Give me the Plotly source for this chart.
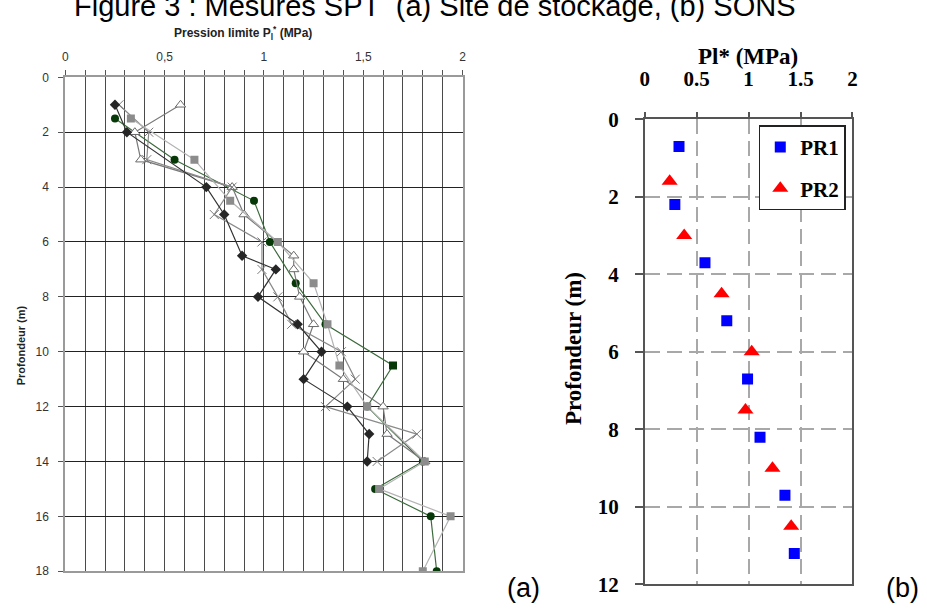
import plotly.graph_objects as go

W, H = 927, 614

# ---------------- Panel (a) data : Pression limite Pl* (MPa) vs depth (m)
diam_depth = [1, 2, 4, 5, 6.5, 7, 8, 9, 10, 11, 12, 13, 14]
diam_pl = [0.25, 0.31, 0.71, 0.80, 0.89, 1.06, 0.97, 1.17, 1.29, 1.20, 1.42, 1.53, 1.52]

circ_depth = [1.5, 3, 4.5, 6, 7.5, 9, 10.5, 12, 14, 15, 16, 18]
circ_pl = [0.25, 0.55, 0.95, 1.03, 1.16, 1.31, 1.65, 1.52, 1.80, 1.56, 1.84, 1.87]
circ_sym = ["circle"] * 6 + ["square"] + ["circle"] * 5

sq_depth = [1.5, 3, 4.5, 6, 7.5, 9, 10.5, 12, 14, 15, 16, 18]
sq_pl = [0.33, 0.65, 0.83, 1.07, 1.25, 1.32, 1.38, 1.52, 1.81, 1.58, 1.94, 1.80]

tri_depth = [1, 2, 3, 4, 5, 6.5, 7, 8, 9, 10, 11, 12, 13, 14]
tri_pl = [0.58, 0.35, 0.38, 0.84, 0.90, 1.15, 1.15, 1.18, 1.25, 1.20, 1.40, 1.60, 1.62, 1.81]

cross_depth = [1, 2, 3, 4, 5, 6, 7, 8, 9, 10, 11, 12, 13, 14]
cross_pl = [0.27, 0.42, 0.41, 0.84, 0.75, 0.99, 0.99, 1.07, 1.14, 1.39, 1.46, 1.31, 1.77, 1.57]

a_tickvals = [0, 0.5, 1, 1.5, 2]
a_ticktext = ["0", "0,5", "1", "1,5", "2"]
a_depth_ticks = [0, 2, 4, 6, 8, 10, 12, 14, 16, 18]

# ---------------- Panel (b) data
pr1_depth = [0.7, 2.2, 3.7, 5.2, 6.7, 8.2, 9.7, 11.2]
pr1_pl = [0.33, 0.29, 0.58, 0.79, 0.99, 1.11, 1.35, 1.44]
pr2_depth = [1.6, 3.0, 4.5, 6.0, 7.5, 9.0, 10.5]
pr2_pl = [0.24, 0.38, 0.74, 1.03, 0.97, 1.23, 1.41]

fig = go.Figure()

# panel (a) traces
fig.add_trace(go.Scatter(x=circ_pl, y=circ_depth, mode="lines+markers",
                         line=dict(color="#3d6b3d", width=1.2),
                         marker=dict(symbol=circ_sym, size=8, color="#073807",
                                     line=dict(color="#073807", width=0)),
                         showlegend=False, xaxis="x", yaxis="y"))
fig.add_trace(go.Scatter(x=tri_pl, y=tri_depth, mode="lines+markers",
                         line=dict(color="#7a7a7a", width=1.2),
                         marker=dict(symbol="triangle-up", size=9, color="white",
                                     line=dict(color="#6a6a6a", width=1)),
                         showlegend=False, xaxis="x", yaxis="y"))
fig.add_trace(go.Scatter(x=cross_pl, y=cross_depth, mode="lines+markers",
                         line=dict(color="#8a8a8a", width=1.2),
                         marker=dict(symbol="x-thin", size=9,
                                     line=dict(color="#7a7a7a", width=1)),
                         showlegend=False, xaxis="x", yaxis="y"))
fig.add_trace(go.Scatter(x=diam_pl, y=diam_depth, mode="lines+markers",
                         line=dict(color="#333333", width=1.2),
                         marker=dict(symbol="diamond", size=8, color="#262626"),
                         showlegend=False, xaxis="x", yaxis="y"))
fig.add_trace(go.Scatter(x=sq_pl, y=sq_depth, mode="lines+markers",
                         line=dict(color="#b4b4b4", width=1.2),
                         marker=dict(symbol="square", size=8, color="#8c8c8c"),
                         showlegend=False, xaxis="x", yaxis="y"))

# panel (b) traces
fig.add_trace(go.Scatter(x=pr1_pl, y=pr1_depth, mode="markers", name="PR1",
                         marker=dict(symbol="square", size=11, color="#0000ff"),
                         legendgroup="g1", xaxis="x2", yaxis="y2"))
fig.add_trace(go.Scatter(x=pr2_pl, y=pr2_depth, mode="markers", name="PR2",
                         marker=dict(symbol="triangle-up", size=14, color="#ff0000"),
                         legendgroup="g2", xaxis="x2", yaxis="y2"))


def px(x):
    return x / W


def py(y):
    return 1 - y / H


a_font = dict(family="Liberation Sans Narrow, Arial Narrow, Liberation Sans, Arial", size=12, color="#333333")
b_font = dict(family="Liberation Serif, Times New Roman, serif", size=21, color="black", weight="bold")

fig.update_layout(
    width=W, height=H,
    margin=dict(l=0, r=0, t=0, b=0),
    paper_bgcolor="white", plot_bgcolor="white",
    xaxis=dict(domain=[px(61), px(462.5)], range=[0, 2], side="top", anchor="y",
               tickvals=a_tickvals, ticktext=a_ticktext, tickfont=a_font,
               ticks="outside", ticklen=5, tickcolor="#555", ticklabelstandoff=5,
               showgrid=True, gridcolor="#4a4a4a", gridwidth=1,
               minor=dict(dtick=0.1, tick0=0, showgrid=True, gridcolor="#4a4a4a",
                          gridwidth=1, ticks="outside", ticklen=5, tickcolor="#555"),
               showline=True, linecolor="#9a9a9a", linewidth=2, mirror=True,
               zeroline=False, fixedrange=True),
    yaxis=dict(domain=[py(582), py(68)], range=[18, 0], anchor="x",
               tickvals=a_depth_ticks, tickfont=a_font,
               ticks="outside", ticklen=5, tickcolor="#555", ticklabelstandoff=7,
               showgrid=True, gridcolor="#222222", gridwidth=1,
               showline=True, linecolor="#9a9a9a", linewidth=2, mirror=True,
               zeroline=False, fixedrange=True),
    xaxis2=dict(domain=[px(646.7), px(856.7)], range=[0, 2], side="top", anchor="y2",
                dtick=0.5, tick0=0, tickfont=b_font,
                ticks="outside", ticklen=6, tickcolor="#555", tickwidth=1.5,
                ticklabelstandoff=17,
                showgrid=True, gridcolor="#a8a8a8", gridwidth=1.5, griddash="15px,7px",
                showline=True, linecolor="#555", linewidth=1.5, mirror=True,
                zeroline=False, fixedrange=True),
    yaxis2=dict(domain=[py(595.7), py(111.7)], range=[12, 0], anchor="x2",
                dtick=2, tick0=0, tickfont=b_font,
                ticks="outside", ticklen=8, tickcolor="#555", tickwidth=1.5,
                ticklabelstandoff=12,
                showgrid=True, gridcolor="#a8a8a8", gridwidth=1.5, griddash="15px,7px",
                showline=True, linecolor="#555", linewidth=1.5, mirror=True,
                zeroline=False, fixedrange=True),
    legend=dict(x=px(762), xanchor="left", y=py(118), yanchor="top",
                bgcolor="white", bordercolor="#222", borderwidth=1.5,
                font=dict(family="Liberation Serif, Times New Roman, serif", size=21,
                          color="black", weight="bold"),
                tracegroupgap=11, traceorder="grouped"),
    showlegend=True,
)

annots = [
    dict(text="Figure 3 : Mesures SPT  (a) Site de stockage, (b) SONS",
         x=px(68), y=py(12), xanchor="left", yanchor="bottom",
         font=dict(family="Liberation Sans, Arial", size=29, color="black")),
    dict(text="<b>Pression limite P<sub>l</sub><sup>*</sup> (MPa)</b>",
         x=px(241), y=py(22), xanchor="center", yanchor="middle",
         font=dict(family="Liberation Sans, Arial", size=12, color="#222")),
    dict(text="<b>Profondeur (m)</b>", textangle=-90,
         x=px(17), y=py(347), xanchor="center", yanchor="middle",
         font=dict(family="Liberation Sans, Arial", size=11, color="#222")),
    dict(text="<b>Pl* (MPa)</b>",
         x=px(751), y=py(46), xanchor="center", yanchor="middle",
         font=dict(family="Liberation Serif, Times New Roman, serif", size=23, color="black")),
    dict(text="<b>Profondeur (m)</b>", textangle=-90,
         x=px(575), y=py(350), xanchor="center", yanchor="middle",
         font=dict(family="Liberation Serif, Times New Roman, serif", size=23, color="black")),
    dict(text="(a)", x=px(524), y=py(599), xanchor="center", yanchor="middle",
         font=dict(family="Liberation Sans, Arial", size=27, color="black")),
    dict(text="(b)", x=px(907), y=py(599), xanchor="center", yanchor="middle",
         font=dict(family="Liberation Sans, Arial", size=27, color="black")),
]
for a in annots:
    a.update(xref="paper", yref="paper", showarrow=False)
fig.update_layout(annotations=annots)

fig.write_html("out.html", post_script="document.body.style.margin='0px';")
